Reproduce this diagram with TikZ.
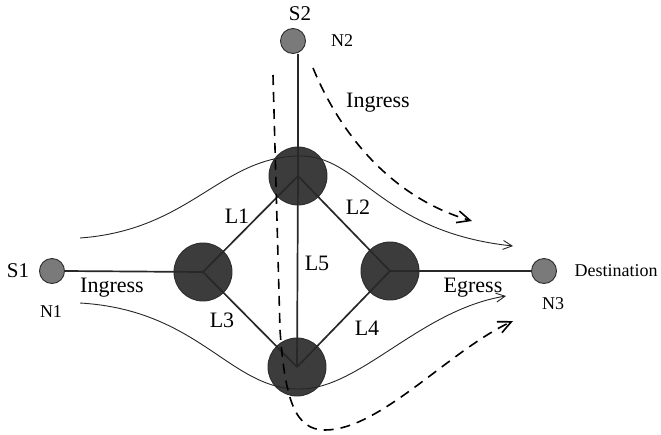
\documentclass[tikz,border=0pt]{standalone}
\usepackage{fontspec}
\setmainfont{Liberation Serif}
\usetikzlibrary{arrows.meta}
\definecolor{linkc}{RGB}{40,40,40}
\definecolor{routerc}{RGB}{60,60,60}
\definecolor{hostc}{RGB}{122,122,122}
\definecolor{rimc}{RGB}{45,45,45}
\tikzset{
  hostnode/.style={circle, draw=rimc, line width=0.9pt, fill=hostc, minimum size=25pt, inner sep=0pt},
  routernode/.style={circle, draw=rimc, line width=0.9pt, fill=routerc, minimum size=58pt, inner sep=0pt},
  linkline/.style={draw=linkc, line width=1.7pt},
  flowline/.style={draw=black!85, line width=0.9pt, -{Straight Barb[length=9pt,width=9pt,line width=0.9pt]}},
  pathline/.style={draw=black, line width=1.6pt, dash pattern=on 10pt off 7pt, -{Straight Barb[length=13pt,width=12pt,line width=1.6pt]}},
  biglabel/.style={font=\fontsize{22}{26}\selectfont, inner sep=0pt},
  srclabel/.style={font=\fontsize{21}{25}\selectfont, inner sep=0pt},
  smalllabel/.style={font=\fontsize{18}{22}\selectfont, inner sep=0pt}
}
\begin{document}
\begin{tikzpicture}[x=1pt, y=-1pt]
  \useasboundingbox[fill=white] (0,0) rectangle (661,434);

  % end hosts
  \node[hostnode] (n1) at (52,271) {};
  \node[hostnode] (n2) at (293,41) {};
  \node[hostnode] (n3) at (544,271) {};

  % routers
  \node[routernode] (ra) at (203,272) {};
  \node[routernode] (rb) at (298,176) {};
  \node[routernode] (rc) at (390,271) {};
  \node[routernode] (rd) at (297,367) {};

  % links, drawn over the routers down to their centres
  \draw[linkline] (n1.east) -- (ra.center);
  \draw[linkline] (rb.center) -- (rb.center |- n2.south);
  \draw[linkline] (rc.center) -- (n3.west);
  \draw[linkline] (ra.center) -- (rb.center);
  \draw[linkline] (rb.center) -- (rc.center);
  \draw[linkline] (ra.center) -- (rd.center);
  \draw[linkline] (rc.center) -- (rd.center);
  \draw[linkline] (rb.center) -- (rd.center);

  % traffic flows
  \coordinate (f1s) at (80,238);
  \coordinate (f1m) at (298,156);
  \coordinate (f1e) at (513,246);
  \draw[flowline] (f1s) .. controls (190,230) and (220,158) .. (f1m)
                        .. controls (360,154) and (380,232) .. (f1e);
  \coordinate (f2s) at (80,303);
  \coordinate (f2m) at (300,389);
  \coordinate (f2e) at (506,296);
  \draw[flowline] (f2s) .. controls (200,310) and (230,390) .. (f2m)
                        .. controls (360,389) and (420,310) .. (f2e);

  % dashed paths
  \coordinate (p1s) at (313,68);
  \coordinate (p1e) at (472,221);
  \draw[pathline] (p1s) .. controls (345,145) and (400,200) .. (p1e);
  \coordinate (p2s) at (273,75);
  \coordinate (p2a) at (280,330);
  \coordinate (p2b) at (325,430);
  \coordinate (p2e) at (513,321);
  \draw[pathline] (p2s) -- (p2a) .. controls (285,400) and (295,430) .. (p2b)
                        .. controls (380,430) and (450,350) .. (p2e);

  % labels
  \node[srclabel] (ls1) at (18,271) {S1};
  \node[smalllabel] (ln1) at (51,312) {N1};
  \node[srclabel] (ls2) at (300,14) {S2};
  \node[smalllabel] (ln2) at (342,41) {N2};
  \node[smalllabel] (ln3) at (553,304) {N3};
  \node[smalllabel] (ldst) at (616,271) {Destination};
  \node[biglabel] (ling1) at (112,288) {Ingress};
  \node[biglabel] (ling2) at (378,103) {Ingress};
  \node[biglabel] (legr) at (473,288) {Egress};
  \node[biglabel] (l1) at (237,216) {L1};
  \node[biglabel] (l2) at (358,207) {L2};
  \node[biglabel] (l3) at (222,320) {L3};
  \node[biglabel] (l4) at (367,328) {L4};
  \node[biglabel] (l5) at (317,263) {L5};
\end{tikzpicture}
\end{document}
